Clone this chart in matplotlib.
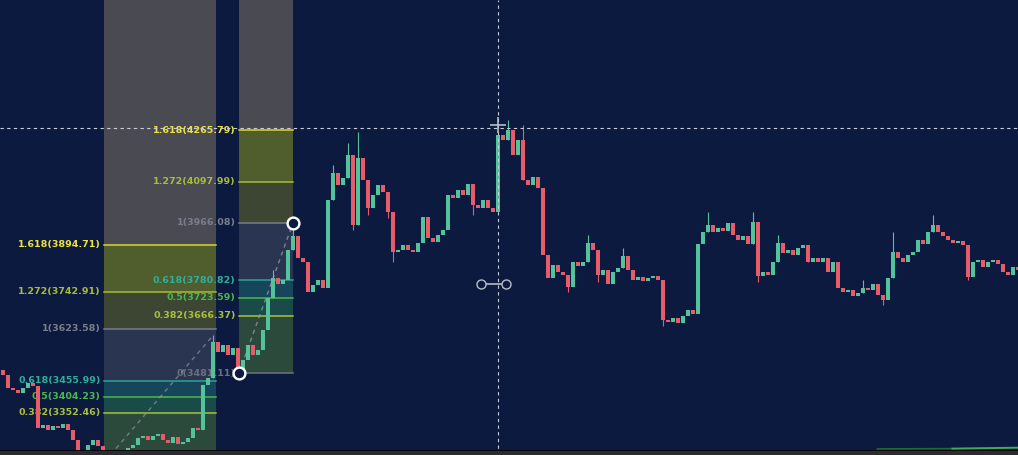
import matplotlib.pyplot as plt
from matplotlib.patches import Rectangle

# closing prices, one candle per slot (open = previous close)
first_open = 3491
closes = [
    3475, 3433, 3427, 3417, 3433, 3449, 3439, 3304, 3314, 3298,
    3310, 3304, 3316, 3298, 3265, 3226, 3217, 3249, 3265, 3245,
    3217, 3200, 3194, 3207, 3217, 3239, 3249, 3271, 3278, 3265,
    3278, 3284, 3265, 3255, 3274, 3252, 3258, 3271, 3304, 3298,
    3443, 3465, 3581, 3549, 3572, 3540, 3562, 3491, 3524, 3572,
    3540, 3556, 3620, 3723, 3788, 3769, 3782, 3879, 3924, 3853,
    3840, 3743, 3766, 3782, 3756, 4040, 4127, 4089, 4111, 4186,
    3960, 4176, 4105, 4014, 4056, 4089, 4066, 4001, 3872, 3879,
    3895, 3879, 3872, 3901, 3985, 3917, 3904, 3927, 3943, 4056,
    4047, 4073, 4056, 4092, 4024, 4014, 4040, 4014, 4001, 4250,
    4234, 4266, 4186, 4234, 4105, 4089, 4114, 4079, 3863, 3788,
    3830, 3807, 3798, 3759, 3840, 3827, 3840, 3901, 3879, 3798,
    3814, 3769, 3807, 3820, 3859, 3814, 3782, 3791, 3778, 3788,
    3794, 3782, 3653, 3646, 3659, 3643, 3665, 3685, 3672, 3898,
    3937, 3960, 3937, 3949, 3940, 3966, 3927, 3911, 3924, 3898,
    3969, 3794, 3807, 3798, 3840, 3901, 3869, 3879, 3863, 3885,
    3895, 3840, 3853, 3840, 3853, 3807, 3840, 3756, 3743, 3750,
    3730, 3740, 3756, 3750, 3769, 3733, 3717, 3788, 3872, 3853,
    3840, 3863, 3872, 3911, 3898, 3937, 3960, 3937, 3924, 3911,
    3901, 3907, 3895, 3791, 3840, 3846, 3823, 3840, 3846, 3833,
    3807, 3798, 3823, 3814,
]
# notable wicks (candle index -> price)
highs = {42: 3604, 54: 3814, 58: 3949, 66: 4153, 69: 4224, 71: 4259,
         101: 4298, 104: 4282, 117: 3927, 124: 3885, 141: 4001, 150: 4001,
         155: 3927, 161: 3879, 172: 3782, 178: 3937, 186: 3992}
lows = {47: 3481, 70: 3943, 73: 3992, 77: 3982, 78: 3840, 94: 3992,
        113: 3743, 119: 3775, 132: 3633, 151: 3775, 176: 3701, 193: 3782}

# fib extension tools
levels = ['0', '0.382', '0.5', '0.618', '1', '1.272', '1.618']
left_prices = [3184.86, 3352.46, 3404.23, 3455.99, 3623.58, 3742.91, 3894.71]
right_prices = [3481.11, 3666.37, 3723.59, 3780.82, 3966.08, 4097.99, 4265.79]
left_span = (20.3, 42.7)
right_span = (47.3, 58.1)
right_anchors = ([47.3, 58.1], [3481.11, 3966.08])
left_trend = ([21.6, 42.2], [3217, 3604])

crosshair_x, crosshair_y = 99.1, 4272

bg = '#0c1a40'
up_c, down_c = '#52c39b', '#e85c6a'
line_c = {'0': '#6f7380', '0.382': '#a9c23c', '0.5': '#4cb84c', '0.618': '#2ba395',
          '1': '#7a7e8a', '1.272': '#a9bc38', '1.618': '#dcd52c'}
text_c = {'0': '#6c707c', '0.382': '#a9bf3e', '0.5': '#4cb84c', '0.618': '#2fae9d',
          '1': '#7a7e8a', '1.272': '#a9bc3a', '1.618': '#ece43c'}
band_c = ['#2c4a3c', '#1b4b48', '#17465a', '#2a3552', '#3c4632', '#4f5e2c']
top_c = '#4a4a53'

fig = plt.figure(figsize=(10.18, 4.55), dpi=100)
ax = fig.add_axes([0, 0, 1, 1])
ax.set_facecolor(bg)
fig.patch.set_facecolor(bg)
ax.set_xlim(-0.5, 203.1)
ax.set_ylim(3216.4, 4685.6)
ax.axis('off')


def draw_fib(prices, span, label_x, show):
    x0, x1 = span
    for k in range(len(prices) - 1):
        ax.add_patch(Rectangle((x0, prices[k]), x1 - x0, prices[k + 1] - prices[k],
                               color=band_c[k], lw=0, zorder=1))
    ax.add_patch(Rectangle((x0, prices[-1]), x1 - x0, 4800 - prices[-1],
                           color=top_c, lw=0, zorder=1))
    for lv, p in zip(levels, prices):
        if lv not in show:
            continue
        ax.plot([x0, x1], [p, p], color=line_c[lv], lw=1.1, zorder=2)
        ax.text(label_x, p, f'{lv}({p:.2f})', color=text_c[lv], fontsize=6.8,
                fontweight='bold', ha='right', va='center', zorder=3)


draw_fib(left_prices, left_span, 19.6, levels[1:])
draw_fib(right_prices, right_span, 46.6, levels)

# candles
opens = [first_open] + closes[:-1]
for i, (o, c) in enumerate(zip(opens, closes)):
    col = up_c if c >= o else down_c
    lo, hi = min(o, c), max(o, c)
    if i in highs or i in lows:
        ax.vlines(i, lows.get(i, lo), highs.get(i, hi), color=col, lw=0.8, zorder=4)
    ax.bar(i, max(hi - lo, 2.5), bottom=lo, width=0.8, color=col, lw=0, zorder=5)

# trend lines and anchor circles
ax.plot(*right_anchors, color='#9ca2ae', lw=1, ls=(0, (3, 3)), alpha=0.7, zorder=6)
ax.plot(*left_trend, color='#9ca2ae', lw=1, ls=(0, (3, 3)), alpha=0.6, zorder=6)
ax.plot(*right_anchors, ls='none', marker='o', ms=8.5, mfc=bg, mec='white', mew=1.7, zorder=8)

# crosshair
ax.axhline(crosshair_y, color='#c9cdd8', lw=0.8, ls=(0, (3, 3)), zorder=7)
ax.axvline(crosshair_x, color='#c9cdd8', lw=0.8, ls=(0, (3, 3)), zorder=7)
ax.plot([crosshair_x], [4282], marker='+', ms=11, mew=1.2, color='#b8bcc6', zorder=8)

# measuring widget
ax.plot([95.6, 100.7], [3769, 3769], color='#b8bcc6', lw=1.2, zorder=8)
ax.plot([95.6, 100.7], [3769, 3769], ls='none', marker='o', ms=6.5, mfc=bg,
        mec='#b8bcc6', mew=1, zorder=9)

# green line at bottom right
ax.plot([175, 190], [3236, 3237], color='#1f6a3a', lw=1.2, zorder=9)
ax.plot([190, 203.1], [3237, 3240], color='#3fae58', lw=1.4, zorder=9)

# bottom strip
ax.add_patch(Rectangle((0, 0), 1, 4 / 455, transform=ax.transAxes, color='#2b2c30',
                       lw=0, zorder=10))
ax.add_patch(Rectangle((0, 4 / 455), 1, 1.5 / 455, transform=ax.transAxes, color='#050505',
                       lw=0, zorder=10))

fig.savefig('out.png', dpi=100, facecolor=bg)
